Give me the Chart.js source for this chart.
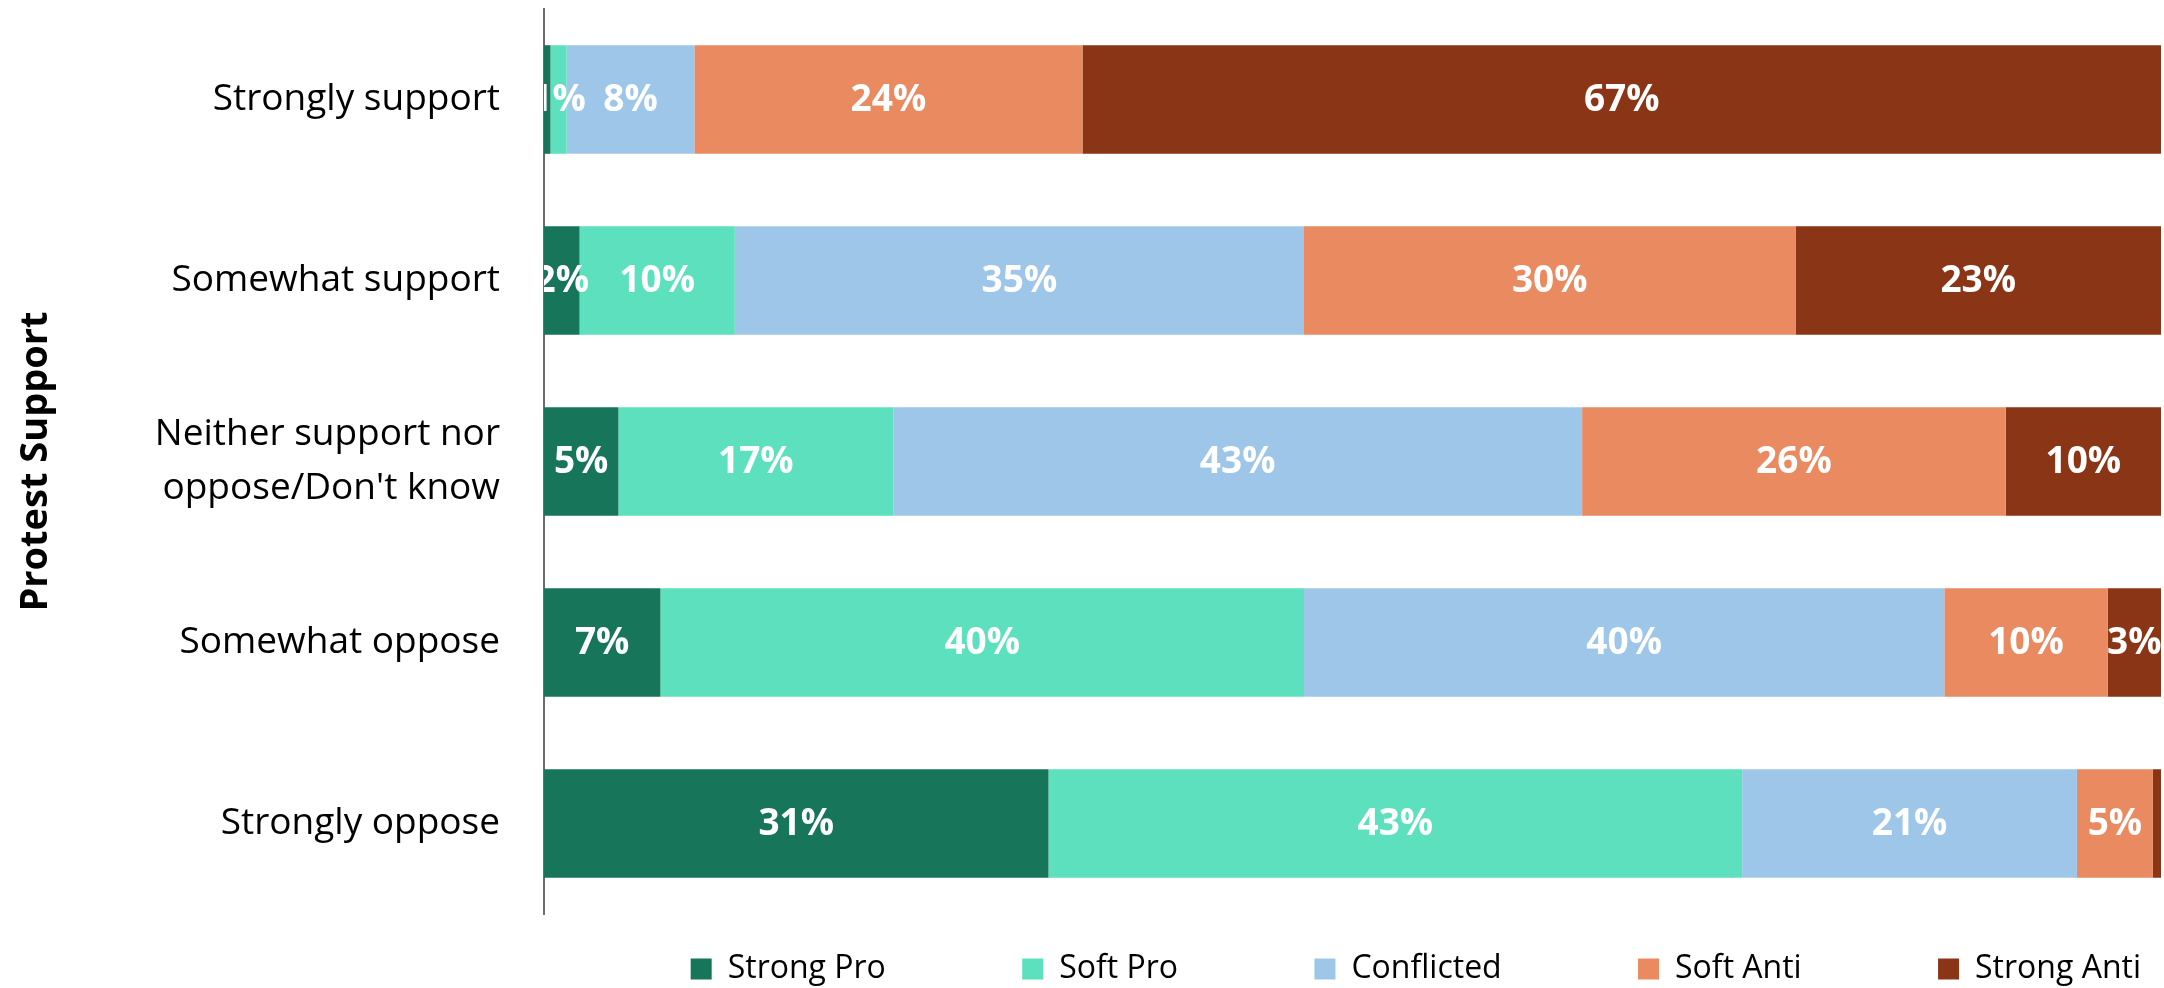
<!DOCTYPE html>
<html>
<head>
<meta charset="utf-8">
<script src="https://cdn.jsdelivr.net/npm/chart.js@4.4.1/dist/chart.umd.min.js"></script>
<style>
	html, body { margin: 0; padding: 0; background: #fff; }
	.wrap { width: 2164px; height: 988px; position: relative; }
</style>
</head>
<body>
<div class="wrap"><canvas id="protestChart"></canvas></div>
<script>
const categories = [
	'Strongly support',
	'Somewhat support',
	['Neither support nor', 'oppose/Don\'t know'],
	'Somewhat oppose',
	'Strongly oppose'
];
const seriesNames = ['Strong Pro', 'Soft Pro', 'Conflicted', 'Soft Anti', 'Strong Anti'];
const strongPro = [0.4, 2.2, 4.6, 7.2, 31.2];
const softPro = [1.0, 9.6, 17.0, 39.8, 42.9];
const conflicted = [7.9, 35.2, 42.6, 39.6, 20.7];
const softAnti = [24.0, 30.4, 26.2, 10.1, 4.7];
const strongAnti = [66.7, 22.6, 9.6, 3.3, 0.5];
const axisTitle = 'Protest Support';

(() => {
	const colors = ['#17755a', '#5ce0be', '#9dc6e8', '#e98a61', '#8a3515'];
	const seriesValues = [strongPro, softPro, conflicted, softAnti, strongAnti];
	const fontFamily = "'Open Sans', 'Liberation Sans', sans-serif";
	const legendFontSize = 32;

	// extra space after each legend entry, so the items spread out like the original
	const measure = document.createElement('canvas').getContext('2d');
	measure.font = legendFontSize + 'px ' + fontFamily;
	const spaceWidth = measure.measureText(' ').width || 8;
	const legendGap = ' '.repeat(Math.round(118 / spaceWidth));

	const barLabels = {
		id: 'barLabels',
		afterDatasetsDraw(chart) {
			const { ctx, chartArea } = chart;
			ctx.save();
			ctx.beginPath();
			ctx.rect(chartArea.left, chartArea.top, chartArea.right - chartArea.left, chartArea.bottom - chartArea.top);
			ctx.clip();
			ctx.fillStyle = '#ffffff';
			ctx.font = 'bold 37px ' + fontFamily;
			ctx.textAlign = 'center';
			ctx.textBaseline = 'middle';
			chart.data.datasets.forEach((ds, di) => {
				const meta = chart.getDatasetMeta(di);
				meta.data.forEach((bar, i) => {
					const value = ds.data[i];
					if (value < 1) return;
					const { x, base, y } = bar.getProps(['x', 'base', 'y'], true);
					ctx.fillText(Math.round(value) + '%', (x + base) / 2, y + 1);
				});
			});
			ctx.restore();
		}
	};

	new Chart(document.getElementById('protestChart'), {
		type: 'bar',
		data: {
			labels: categories,
			datasets: seriesNames.map((name, i) => ({
				label: name,
				data: seriesValues[i],
				backgroundColor: colors[i],
				borderWidth: 0,
				categoryPercentage: 1,
				barPercentage: 0.6
			}))
		},
		options: {
			indexAxis: 'y',
			responsive: true,
			maintainAspectRatio: false,
			animation: false,
			layout: { padding: { top: 9, right: 3, bottom: -7, left: 0 } },
			scales: {
				x: { display: false, stacked: true, min: 0, max: 100 },
				y: {
					stacked: true,
					grid: { display: false, drawTicks: false },
					border: { display: true, color: '#6b6b6b', width: 2 },
					ticks: {
						color: '#000',
						padding: 44,
						font: { family: fontFamily, size: 37, lineHeight: 1.45 }
					},
					title: {
						display: true,
						text: axisTitle,
						color: '#000',
						padding: { top: 13, bottom: 0 },
						font: { family: fontFamily, size: 38, weight: 'bold' }
					},
					afterFit(scale) {
						scale.width = 544;
						// the bars are offset from the ends, so the tick labels need no extra room
						scale.paddingTop = 0;
						scale.paddingBottom = 0;
					}
				}
			},
			plugins: {
				tooltip: { enabled: false },
				legend: {
					position: 'bottom',
					align: 'end',
					fullSize: true,
					title: { display: true, text: '', padding: 3.5, font: { size: 10 } },
					labels: {
						color: '#000',
						boxWidth: 21,
						boxHeight: 21,
						padding: 20,
						font: { family: fontFamily, size: legendFontSize },
						generateLabels(chart) {
							const items = Chart.defaults.plugins.legend.labels.generateLabels(chart);
							items.forEach((item, i) => {
								item.lineWidth = 0;
								if (i < items.length - 1) item.text += legendGap;
							});
							return items;
						}
					}
				}
			}
		},
		plugins: [barLabels]
	});
})();
</script>
</body>
</html>
